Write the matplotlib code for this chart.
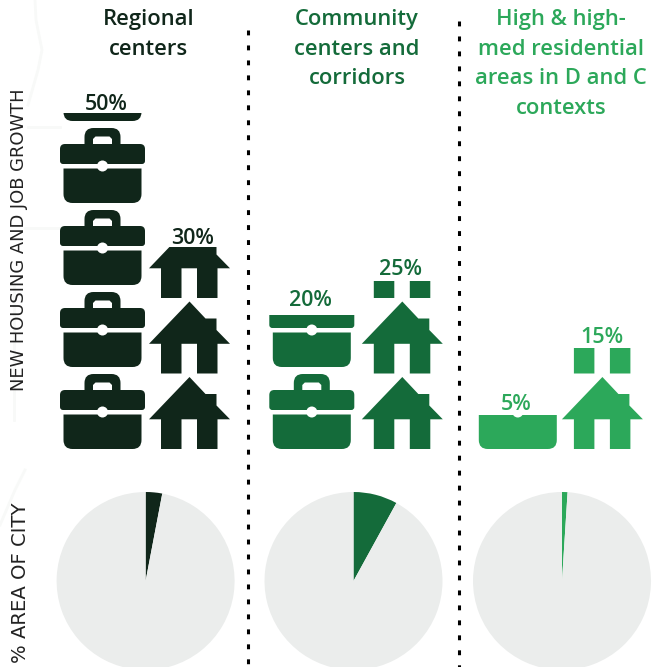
import matplotlib
matplotlib.use('Agg')
import matplotlib.pyplot as plt
from matplotlib.patches import PathPatch, Ellipse, Rectangle
from matplotlib.path import Path

W, H = 652, 667
BASE = 449          # pixel row of the 0% baseline
SCALE = 6.72        # pixels per percent

groups = ['Regional\ncenters', 'Community\ncenters and\ncorridors',
          'High & high-\nmed residential\nareas in D and C\ncontexts']
job_growth = [50, 20, 5]
housing_growth = [30, 25, 15]
city_area = [3, 8, 1]
colors = ['#10261A', '#146B3A', '#2CA85A']
pie_bg = '#EBEDEC'

job_x = [102.5, 311.8, 517.8]
house_x = [189.5, 402.3, 602.4]
job_label_x = [106.5, 310.5, 516.5]
house_label_x = [193, 401, 601.5]
job_label_gap = [3, 9, 5]
house_label_gap = [3, 6, 5]
title_x = [148.5, 357, 561]
pie_x = [145.6, 353.5, 562]
divider_x = [248, 459]
divider_top = [30, 21]

# faint map traces behind the chart, in pixels
map_traces = [
    [(35, 0), (36, 20), (42, 50), (38, 70), (28, 105)],
    [(28, 127), (60, 127)],
    [(25, 228), (60, 228)],
    [(14, 285), (14, 420)],
    [(25, 470), (15, 490), (0, 525)],
]


def rrect(x0, y0, x1, y1, rt=0, rb=0):
    # rounded rectangle, y up, clockwise
    v = [(x0, y0 + rb), (x0, y1 - rt), (x0, y1), (x0 + rt, y1), (x1 - rt, y1), (x1, y1),
         (x1, y1 - rt), (x1, y0 + rb), (x1, y0), (x1 - rb, y0), (x0 + rb, y0), (x0, y0), (x0, y0 + rb)]
    c = [Path.MOVETO, Path.LINETO, Path.CURVE3, Path.CURVE3, Path.LINETO, Path.CURVE3,
         Path.CURVE3, Path.LINETO, Path.CURVE3, Path.CURVE3, Path.LINETO, Path.CURVE3, Path.CURVE3]
    return v, c


def briefcase():
    verts, codes = [], []
    for v, c in [rrect(-42.5, 39, 42.5, 59, rt=5, rb=3),
                 rrect(-39, 0, 39, 34.5, rb=9),
                 rrect(-18, 58, 18, 75, rt=9)]:
        verts += v
        codes += c
    hole = [(-9.5, 59), (-9.5, 64), (-7, 66.5), (7, 66.5), (9.5, 64), (9.5, 59), (-9.5, 59)]
    # counter clockwise so it stays empty
    verts += hole[::-1]
    codes += [Path.MOVETO] + [Path.LINETO] * 6
    return verts, codes


def house():
    verts = [(-40.5, 29.7), (0, 72), (16, 55), (27, 55), (27, 43.5), (40.5, 29.7), (28, 29.7), (28, 0),
             (7.5, 0), (7.5, 29.7), (-8, 29.7), (-8, 0), (-28.5, 0), (-28.5, 29.7), (-40.5, 29.7)]
    codes = [Path.MOVETO] + [Path.LINETO] * 14
    return verts, codes


def pictogram(ax, x, value, color, shape, period, clasp=False):
    verts, codes = shape
    clip = Rectangle((x - 60, 0), 120, value, transform=ax.transData)
    n = 0
    while n * period / SCALE < value:
        off = n * period
        v = [(x + a, (b + off) / SCALE) for a, b in verts]
        p = PathPatch(Path(v, codes), fc=color, ec='none')
        ax.add_patch(p)
        p.set_clip_path(clip)
        if clasp:
            c = Ellipse((x, (37 + off) / SCALE), 11, 11 / SCALE, fc='white', ec='none')
            ax.add_patch(c)
            c.set_clip_path(clip)
        n += 1


plt.rcParams['font.family'] = ['Open Sans', 'DejaVu Sans']
fig = plt.figure(figsize=(W / 100, H / 100), dpi=100)
ax = fig.add_axes([0, 0, 1, 1])
ax.set_xlim(0, W)
ax.set_ylim((BASE - H) / SCALE, BASE / SCALE)
ax.axis('off')

for trace in map_traces:
    ax.plot([p[0] for p in trace], [(BASE - p[1]) / SCALE for p in trace], color='#F8F9F8', lw=2, zorder=0)

for i in range(3):
    pictogram(ax, job_x[i], job_growth[i], colors[i], briefcase(), 82, clasp=True)
    pictogram(ax, house_x[i], housing_growth[i], colors[i], house(), 75.5)
    ax.text(job_label_x[i], job_growth[i] + job_label_gap[i] / SCALE, f'{job_growth[i]}%', color=colors[i],
            ha='center', va='baseline', fontsize=15.5, fontweight='semibold')
    ax.text(house_label_x[i], housing_growth[i] + house_label_gap[i] / SCALE, f'{housing_growth[i]}%', color=colors[i],
            ha='center', va='baseline', fontsize=15.5, fontweight='semibold')
    ax.text(title_x[i], (BASE - 9) / SCALE, groups[i], color=colors[i], ha='center', va='top',
            fontsize=15.8, fontweight='semibold', linespacing=1.54)

for x, top in zip(divider_x, divider_top):
    ax.plot([x, x], [(BASE - top) / SCALE, (BASE - H) / SCALE], color='black', lw=2.2,
            linestyle=(0, (1.6, 3.3)))

ax.text(19, (BASE - 240) / SCALE, 'NEW HOUSING AND JOB GROWTH', rotation=90, ha='center', va='center',
        fontsize=12.9, color='#222222', family=['DejaVu Sans'])
ax.text(21, (BASE - 583) / SCALE, '% AREA OF CITY', rotation=90, ha='center', va='center',
        fontsize=14.1, color='#222222', family=['DejaVu Sans'])

R = 89
for i in range(3):
    pax = fig.add_axes([(pie_x[i] - R) / W, (H - 581 - R) / H, 2 * R / W, 2 * R / H])
    pax.pie([city_area[i], 100 - city_area[i]], colors=[colors[i], pie_bg], startangle=90, counterclock=False)
    pax.set_xlim(-1, 1)
    pax.set_ylim(-1, 1)

fig.savefig('out.png', dpi=100)
